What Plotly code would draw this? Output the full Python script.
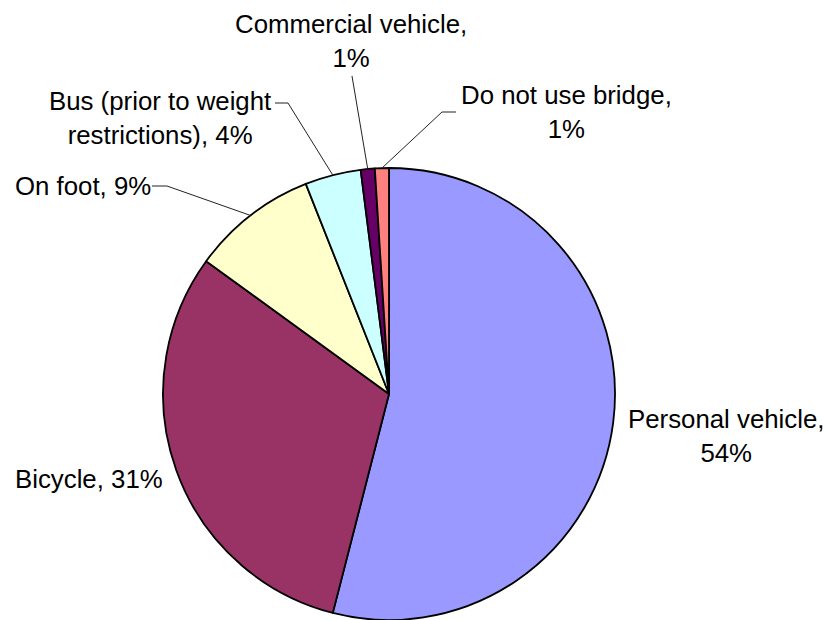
import math
import plotly.graph_objects as go

# Mode of travel across the bridge (share of respondents, %)
categories = [
    "Personal vehicle",
    "Bicycle",
    "On foot",
    "Bus (prior to weight restrictions)",
    "Commercial vehicle",
    "Do not use bridge",
]
shares = [54, 31, 9, 4, 1, 1]
colors = ["#9999FF", "#993366", "#FFFFCC", "#CCFFFF", "#660066", "#FF8080"]

# Label text as shown around the pie
label_text = [
    "Personal vehicle,<br>54%",
    "Bicycle, 31%",
    "On foot, 9%",
    "Bus (prior to weight<br>restrictions), 4%",
    "Commercial vehicle,<br>1%",
    "Do not use bridge,<br>1%",
]

W, H = 827, 620
CX, CY, R = 389, 394, 226  # pie centre / radius in pixels

FONT = dict(family="Liberation Sans, Arial, sans-serif", size=25.8, color="#000000")


def px_to_paper(x, y):
    return x / W, 1 - y / H


fig = go.Figure(
    go.Pie(
        labels=categories,
        values=shares,
        sort=False,
        direction="clockwise",
        rotation=0,
        marker=dict(colors=colors, line=dict(color="#000000", width=1.8)),
        textinfo="none",
        hoverinfo="label+percent",
        showlegend=False,
        domain=dict(
            x=[(CX - R) / W, (CX + R) / W],
            y=[(H - CY - R) / H, (H - CY + R) / H],
        ),
    )
)

# Edge point of each slice at its mid angle (clockwise from 12 o'clock)
total = sum(shares)
edge = []
cum = 0
for v in shares:
    mid = (cum + v / 2) / total * 2 * math.pi
    edge.append((CX + R * math.sin(mid), CY - R * math.cos(mid)))
    cum += v

# Label placement: (x, y, xanchor) in pixels
label_pos = [
    (726, 436, "center"),
    (13, 479, "left"),
    (13, 186, "left"),
    (160, 118, "center"),
    (351, 41, "center"),
    (566, 112, "center"),
]

# Leader line start / elbow points in pixels, None for labels without a leader
leader_start = [
    None,
    None,
    [(152, 186), (167, 186)],
    [(275, 103), (288, 103)],
    [(352, 76)],
    [(456, 112), (442, 112)],
]

for txt, (x, y, xa) in zip(label_text, label_pos):
    px, py = px_to_paper(x, y)
    fig.add_annotation(
        x=px, y=py, xref="paper", yref="paper",
        text=txt, showarrow=False, xanchor=xa, yanchor="middle",
        align="center", font=FONT,
    )

for pts, e in zip(leader_start, edge):
    if pts is None:
        continue
    path_pts = [px_to_paper(*p) for p in pts + [e]]
    d = "M " + " L ".join(f"{a:.5f},{b:.5f}" for a, b in path_pts)
    fig.add_shape(
        type="path", path=d, xref="paper", yref="paper",
        line=dict(color="#222222", width=1),
    )

fig.update_layout(
    width=W, height=H,
    margin=dict(l=0, r=0, t=0, b=0),
    paper_bgcolor="#FFFFFF",
    plot_bgcolor="#FFFFFF",
    font=FONT,
)

fig.write_html("out.html")
